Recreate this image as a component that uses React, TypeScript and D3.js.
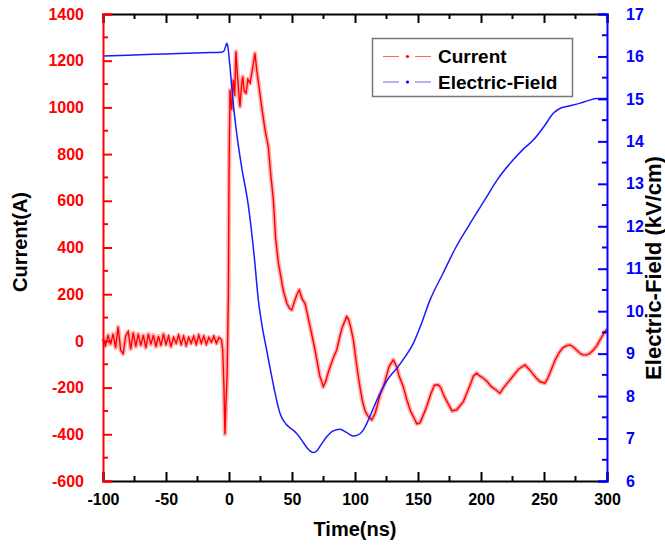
import React, { useEffect, useRef } from 'react';
import * as d3 from 'd3';

// current trace, [time ns, current A]
const currentPts: [number, number][] = [
  [-100, 10], [-98, -20], [-96, 25], [-94, -15], [-92, 30], [-90, -30], [-88, 60], [-86, -40],
  [-84, -55], [-82, 20], [-80, 40], [-78, -35], [-76, 35], [-74, -25], [-72, 30], [-70, -20],
  [-68, 25], [-66, -30], [-64, 30], [-62, -15], [-60, 25], [-58, -25], [-56, 20], [-54, -20],
  [-52, 30], [-50, -15], [-48, 20], [-46, -25], [-44, 15], [-42, -10], [-40, 25], [-38, -15],
  [-36, 20], [-34, -20], [-32, 15], [-30, -10], [-28, 20], [-26, -15], [-24, 25], [-22, -10],
  [-20, 20], [-18, -15], [-16, 15], [-14, -5], [-12, 20], [-10, -10], [-8, 15], [-6, 5],
  [-5, -40], [-4, -200], [-3.2, -400], [-2.5, -280], [-1.5, -150], [-0.5, 200], [0, 700],
  [0.8, 1075], [2.1, 989], [3.4, 1118], [4.5, 1050], [5.5, 1239], [6.5, 1150], [7.4, 1089],
  [8.7, 1003], [10, 1100], [10.9, 1132], [12, 1070], [13.5, 1061], [15, 1120], [16.7, 1104],
  [18.5, 1160], [20.6, 1232], [22, 1160], [23.8, 1089], [26, 1000], [28.6, 904], [31.2, 832],
  [33, 720], [35.2, 604], [37, 440], [39.2, 333], [41, 280], [43, 218], [44.4, 190], [46, 160],
  [48, 140], [49.8, 133], [52, 170], [54, 200], [55.8, 218], [58, 180], [60.3, 161], [62, 120],
  [64, 70], [66, 20], [68.3, -39], [70, -90], [72, -150], [74.9, -196], [77, -170], [79, -130],
  [81, -100], [83, -70], [85.5, -39], [88, 20], [90, 60], [93.4, 104], [95, 90], [96.5, 60],
  [98.7, 4], [100, -50], [102, -130], [104, -200], [106, -260], [108, -300], [110, -320],
  [113.3, -338], [116, -310], [118, -270], [120, -230], [122.5, -196], [125, -150], [127, -110],
  [130.4, -81], [133, -110], [135, -150], [138.3, -196], [141, -250], [144, -300], [146.3, -324],
  [149, -355], [151.6, -351], [154, -320], [157, -280], [160, -230], [163, -190], [166, -188],
  [168, -200], [171, -240], [174, -270], [177, -300], [180.7, -295], [183, -280], [186, -260],
  [189, -220], [192, -180], [194, -150], [196.6, -138], [199, -150], [202, -160], [205, -175],
  [208, -195], [212, -210], [215, -224], [218, -200], [221, -180], [224, -160], [227, -140],
  [230, -120], [234.9, -103], [238, -120], [241, -140], [244, -160], [247, -175], [250.8, -181],
  [253, -160], [256, -120], [259, -80], [262, -50], [265, -30], [268, -20], [270.6, -17],
  [273, -25], [276, -40], [279, -55], [281, -60], [283.9, -60], [286, -55], [289, -40],
  [292, -20], [295, 10], [298.4, 40], [300, 50],
];

// electric field, [time ns, kV/cm]
const fieldPts: [number, number][] = [
  [-100, 16.01], [-80, 16.03], [-60, 16.05], [-40, 16.07], [-20, 16.09], [-6, 16.1], [-4, 16.13],
  [-2.5, 16.25], [-1.8, 16.31], [-1, 16.25], [0, 16.0], [0.8, 15.76], [3, 15.0], [6.1, 14.19],
  [10, 13.4], [15.3, 12.5], [20, 11.3], [23.3, 10.26], [26, 9.7], [29.9, 9.08], [33, 8.6],
  [36, 8.15], [40.5, 7.59], [45, 7.35], [50, 7.22], [53.7, 7.12], [58, 6.95], [62, 6.78],
  [66.9, 6.67], [70, 6.72], [73, 6.85], [77.5, 7.04], [82, 7.17], [88.1, 7.22], [93, 7.15],
  [98.7, 7.06], [102, 7.08], [106.6, 7.2], [110, 7.4], [115, 7.75], [119.8, 8.06], [125, 8.35],
  [130, 8.55], [133.1, 8.65], [138, 8.85], [146.3, 9.24], [152, 9.65], [159.5, 10.26],
  [170, 10.9], [180, 11.5], [190, 12.0], [203, 12.62], [213, 13.1], [225.4, 13.56], [233, 13.8],
  [241.5, 14.03], [250, 14.35], [257.4, 14.66], [263, 14.78], [268, 14.82], [278.6, 14.9],
  [285, 14.96], [291.9, 15.01], [300, 15.01],
];

const timeTicks = [-100, -50, 0, 50, 100, 150, 200, 250, 300];
const currentTicks = [-600, -400, -200, 0, 200, 400, 600, 800, 1000, 1200, 1400];
const fieldTicks = [6, 7, 8, 9, 10, 11, 12, 13, 14, 15, 16, 17];
const legendNames = ['Current', 'Electric-Field'];

const W = 665, H = 547;
const left = 103, right = 607, top = 14, bottom = 481;
const font = '"Liberation Sans", Arial, sans-serif';
const fmt = (d: any) => String(d); // plain hyphen minus, like the original

export default function App() {
  const ref = useRef<SVGSVGElement>(null);

  useEffect(() => {
    const svg = d3.select(ref.current);
    svg.selectAll('*').remove();

    const x = d3.scaleLinear().domain([-100, 300]).range([left, right]);
    const yI = d3.scaleLinear().domain([-600, 1400]).range([bottom, top]);
    const yE = d3.scaleLinear().domain([6, 17]).range([bottom, top]);

    // data lines
    const lineI = d3.line<[number, number]>().x(d => x(d[0])).y(d => yI(d[1]));
    const lineE = d3.line<[number, number]>().x(d => x(d[0])).y(d => yE(d[1])).curve(d3.curveMonotoneX);

    // noisy-looking band under the current trace
    svg.append('path').datum(currentPts).attr('d', lineI)
      .attr('fill', 'none').attr('stroke', '#ff2020').attr('stroke-width', 4.5).attr('opacity', 0.35)
      .attr('stroke-linejoin', 'round');
    svg.append('path').datum(currentPts).attr('d', lineI)
      .attr('fill', 'none').attr('stroke', '#ff0000').attr('stroke-width', 1.4);
    svg.append('path').datum(fieldPts).attr('d', lineE)
      .attr('fill', 'none').attr('stroke', '#1a1aff').attr('stroke-width', 1.5);

    // bottom + top axes (ticks point inward)
    const minorT = d3.range(-75, 300, 50);
    const bottomAx = d3.axisBottom(x).tickValues(timeTicks).tickSize(-9).tickPadding(13).tickFormat(fmt);
    const gb = svg.append('g').attr('transform', `translate(0,${bottom})`).call(bottomAx);
    gb.select('.domain').attr('stroke', '#000').attr('stroke-width', 2);
    gb.selectAll('.tick line').attr('stroke', '#000').attr('stroke-width', 2);
    gb.selectAll('.tick text').attr('font-family', font).attr('font-weight', 'bold')
      .attr('font-size', 16).attr('fill', '#000');
    gb.selectAll('.minor').data(minorT).enter().append('line')
      .attr('x1', d => x(d)).attr('x2', d => x(d)).attr('y1', 0).attr('y2', -5)
      .attr('stroke', '#000').attr('stroke-width', 2);

    const gt = svg.append('g').attr('transform', `translate(0,${top})`)
      .call(d3.axisTop(x).tickValues(timeTicks).tickSize(-9).tickFormat(() => ''));
    gt.select('.domain').attr('stroke', '#000').attr('stroke-width', 2);
    gt.selectAll('.tick line').attr('stroke', '#000').attr('stroke-width', 2);
    gt.selectAll('.minor').data(minorT).enter().append('line')
      .attr('x1', d => x(d)).attr('x2', d => x(d)).attr('y1', 0).attr('y2', 5)
      .attr('stroke', '#000').attr('stroke-width', 2);

    // left current axis, red
    const gl = svg.append('g').attr('transform', `translate(${left},0)`)
      .call(d3.axisLeft(yI).tickValues(currentTicks).tickSize(-9).tickPadding(19).tickFormat(fmt));
    gl.select('.domain').attr('stroke', '#ff0000').attr('stroke-width', 2);
    gl.selectAll('.tick line').attr('stroke', '#ff0000').attr('stroke-width', 2);
    gl.selectAll('.tick text').attr('font-family', font).attr('font-weight', 'bold')
      .attr('font-size', 16).attr('fill', '#ff0000');
    gl.selectAll('.minor').data(d3.range(-500, 1400, 200)).enter().append('line')
      .attr('y1', d => yI(d)).attr('y2', d => yI(d)).attr('x1', 0).attr('x2', 5)
      .attr('stroke', '#ff0000').attr('stroke-width', 2);

    // right field axis, blue
    const gr = svg.append('g').attr('transform', `translate(${right},0)`)
      .call(d3.axisRight(yE).tickValues(fieldTicks).tickSize(-9).tickPadding(19).tickFormat(fmt));
    gr.select('.domain').attr('stroke', '#0000ff').attr('stroke-width', 2);
    gr.selectAll('.tick line').attr('stroke', '#0000ff').attr('stroke-width', 2);
    gr.selectAll('.tick text').attr('font-family', font).attr('font-weight', 'bold')
      .attr('font-size', 16).attr('fill', '#0000ff');
    gr.selectAll('.minor').data(d3.range(6.5, 17, 1)).enter().append('line')
      .attr('y1', d => yE(d)).attr('y2', d => yE(d)).attr('x1', 0).attr('x2', -5)
      .attr('stroke', '#0000ff').attr('stroke-width', 2);

    // axis titles
    svg.append('text').attr('transform', `translate(27,242) rotate(-90)`)
      .attr('text-anchor', 'middle').attr('font-family', font).attr('font-weight', 'bold')
      .attr('font-size', 20).text('Current(A)');
    svg.append('text').attr('transform', `translate(661,268) rotate(-90)`)
      .attr('text-anchor', 'middle').attr('font-family', font).attr('font-weight', 'bold')
      .attr('font-size', 22).text('Electric-Field (kV/cm)');
    svg.append('text').attr('x', (left + right) / 2).attr('y', 536)
      .attr('text-anchor', 'middle').attr('font-family', font).attr('font-weight', 'bold')
      .attr('font-size', 20).text('Time(ns)');

    // legend
    const lg = svg.append('g');
    lg.append('rect').attr('x', 372.5).attr('y', 38.5).attr('width', 200).attr('height', 58)
      .attr('fill', '#fff').attr('stroke', '#777').attr('stroke-width', 1.5);
    const colors = ['#ff0000', '#0000ff'];
    legendNames.forEach((name, i) => {
      const cy = 56.5 + i * 25.5;
      lg.append('line').attr('x1', 383).attr('x2', 399).attr('y1', cy).attr('y2', cy)
        .attr('stroke', colors[i]).attr('stroke-width', 1).attr('opacity', 0.6);
      lg.append('line').attr('x1', 415).attr('x2', 431).attr('y1', cy).attr('y2', cy)
        .attr('stroke', colors[i]).attr('stroke-width', 1).attr('opacity', 0.6);
      lg.append('circle').attr('cx', 407.5).attr('cy', cy).attr('r', 1.6).attr('fill', colors[i]);
      lg.append('text').attr('x', 438).attr('y', cy).attr('dy', '0.36em')
        .attr('font-family', font).attr('font-weight', 'bold').attr('font-size', 19)
        .attr('fill', '#000').text(name);
    });
  }, []);

  return (
    <svg ref={ref} width={W} height={H}
      style={{ position: 'absolute', left: 0, top: 0, background: '#fff' }} />
  );
}
